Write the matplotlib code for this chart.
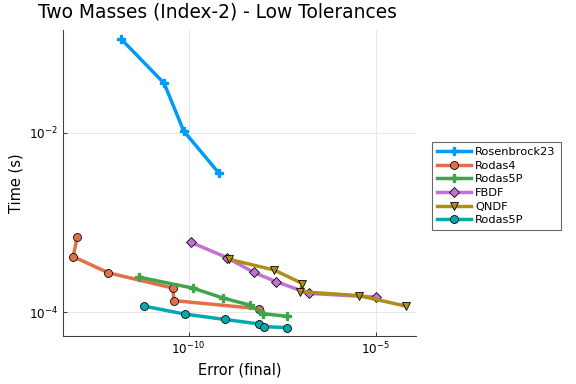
import numpy as np
import matplotlib
matplotlib.use("Agg")
import matplotlib.pyplot as plt

# Data (log10 values)
ros23_x = [-11.79, -10.65, -10.13, -9.19]
ros23_y = [-0.96, -1.45, -1.98, -2.45]

rodas4_x = [-12.97, -13.08, -12.14, -10.42, -10.39, -8.12]
rodas4_y = [-3.165, -3.38, -3.56, -3.73, -3.87, -3.96]

rodas5p_x = [-11.31, -9.89, -9.09, -8.36, -8.00, -7.37]
rodas5p_y = [-3.61, -3.73, -3.84, -3.92, -4.016, -4.045]

fbdf_x = [-9.94, -8.98, -8.26, -7.66, -6.78, -5.01]
fbdf_y = [-3.22, -3.39, -3.555, -3.66, -3.79, -3.83]

qndf_x = [-8.91, -7.71, -6.96, -7.02, -5.45, -4.21]
qndf_y = [-3.41, -3.53, -3.68, -3.77, -3.815, -3.93]

rodas5p2_x = [-11.20, -10.10, -9.03, -8.11, -7.98, -7.38]
rodas5p2_y = [-3.93, -4.02, -4.08, -4.13, -4.16, -4.17]

series = [
    ("Rosenbrock23", ros23_x, ros23_y, "#009AFA", "P"),
    ("Rodas4", rodas4_x, rodas4_y, "#E36F47", "o"),
    ("Rodas5P", rodas5p_x, rodas5p_y, "#3EA44E", "P"),
    ("FBDF", fbdf_x, fbdf_y, "#C371D2", "D"),
    ("QNDF", qndf_x, qndf_y, "#AC8E18", "v"),
    ("Rodas5P", rodas5p2_x, rodas5p2_y, "#00AAAE", "o"),
]

fig = plt.figure(figsize=(6, 4), dpi=96)
ax = fig.add_axes([63/576, 1-336/384, (416-63)/576, (336-30)/384])

for name, xs, ys, c, m in series:
    xv = 10.0 ** np.array(xs)
    yv = 10.0 ** np.array(ys)
    if m == "P":
        ax.plot(xv, yv, color=c, lw=2.6, marker="P", ms=6, mec=c, mfc=c, label=name)
    else:
        ms = 6 if m != "D" else 5
        ax.plot(xv, yv, color=c, lw=2.6, marker=m, ms=ms, mec="black", mew=0.6, mfc=c, label=name)

ax.set_xscale("log")
ax.set_yscale("log")
ax.set_xlim(10**-13.35, 10**-3.93)
ax.set_ylim(10**-4.264, 10**-0.856)
ax.set_xticks([1e-10, 1e-5])
ax.set_yticks([1e-4, 1e-2])
ax.xaxis.set_minor_locator(matplotlib.ticker.NullLocator())
ax.yaxis.set_minor_locator(matplotlib.ticker.NullLocator())
ax.grid(True, color="#e6e6e6", lw=0.7)
ax.set_axisbelow(True)
for s in ["top", "right"]:
    ax.spines[s].set_visible(False)
for s in ["left", "bottom"]:
    ax.spines[s].set_color("#404040")
ax.tick_params(direction="in", length=3, labelsize=9, color="#404040")

ax.set_xlabel("Error (final)", fontsize=11)
ax.set_ylabel("Time (s)", fontsize=11)
fig.text(217/576, 1-12/384, "Two Masses (Index-2) - Low Tolerances", fontsize=14,
         ha="center", va="center")

leg = ax.legend(loc="upper left", bbox_to_anchor=(432/576, 1-142/384), bbox_transform=fig.transFigure,
                fontsize=8.5, frameon=True, fancybox=False, edgecolor="#404040",
                handlelength=3.0, borderpad=0.45, labelspacing=0.32, handletextpad=0.35,
                borderaxespad=0)
leg.get_frame().set_linewidth(0.8)

fig.savefig("out.png", dpi=96)
